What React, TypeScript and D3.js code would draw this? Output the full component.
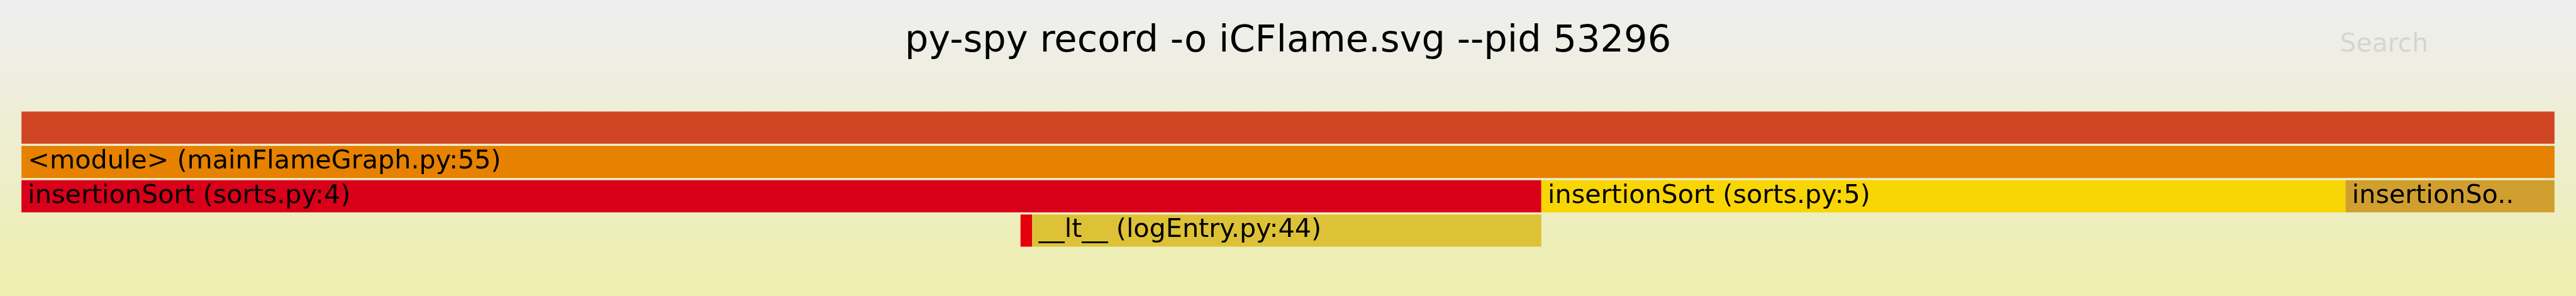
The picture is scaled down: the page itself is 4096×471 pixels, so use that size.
import React from "react";
import * as d3 from "d3";

const titleText = "py-spy record -o iCFlame.svg --pid 53296";
const searchText = "Search";

// Flame graph frames (samples out of 1000 total)
const frameNames = [
  "",
  "<module> (mainFlameGraph.py:55)",
  "insertionSort (sorts.py:4)",
  "insertionSort (sorts.py:5)",
  "insertionSort (sorts.py:6)",
  "__lt__ (logEntry.py:43)",
  "__lt__ (logEntry.py:44)",
];
const frameDepth = [0, 1, 2, 2, 2, 3, 3];
const frameStart = [0, 0, 0, 600, 917.5, 394.4, 399];
const frameSamples = [1000, 1000, 600, 317.5, 82.5, 4.6, 201];
const frameColors = ["#d04524", "#e68200", "#d9001a", "#f8d505", "#d09f30", "#e4000a", "#ddc238"];

const totalSamples = 1000;

const W = 1200;
const H = 138;
const FONT = 12;
const FONT_W = 0.59;

function fitLabel(name: string, width: number): string {
  if (width < 2 * FONT * FONT_W) return "";
  const chars = Math.floor(width / (FONT * FONT_W));
  if (chars >= name.length) return name;
  return name.slice(0, Math.max(0, chars - 2)) + "..";
}

export default function App() {
  const x = d3.scaleLinear().domain([0, totalSamples]).range([10, W - 10]);
  const y = d3.scaleLinear().domain([0, 1]).range([52, 68]);
  const frames = frameNames.map((name, i) => {
    const x0 = x(frameStart[i]);
    const x1 = x(frameStart[i] + frameSamples[i]);
    return { name, x0, w: x1 - x0, y0: y(frameDepth[i]), color: frameColors[i] };
  });
  const font = "Verdana, 'DejaVu Sans', sans-serif";
  return (
    <svg
      width={4096}
      height={471}
      viewBox={`0 0 ${W} ${H}`}
      preserveAspectRatio="none"
      style={{ position: "fixed", left: 0, top: 0, display: "block" }}
      fontFamily={font}
    >
      <defs>
        <linearGradient id="bg" x1="0" y1="0" x2="0" y2="1">
          <stop offset="5%" stopColor="#eeeeee" />
          <stop offset="95%" stopColor="#eeeeb0" />
        </linearGradient>
      </defs>
      <rect x={0} y={0} width={W} height={H} fill="url(#bg)" />
      <text x={W / 2} y={24} textAnchor="middle" fontSize={17.3} fill="#000">
        {titleText}
      </text>
      <text x={1090} y={24} fontSize={12} fill="#000" opacity={0.1}>
        {searchText}
      </text>
      {frames.map((f, i) => (
        <g key={i}>
          <rect x={f.x0} y={f.y0} width={f.w} height={15} fill={f.color} />
          <text x={f.x0 + 3} y={f.y0 + 10.5} fontSize={12.1} fill="#000">
            {fitLabel(f.name, f.w)}
          </text>
        </g>
      ))}
    </svg>
  );
}
